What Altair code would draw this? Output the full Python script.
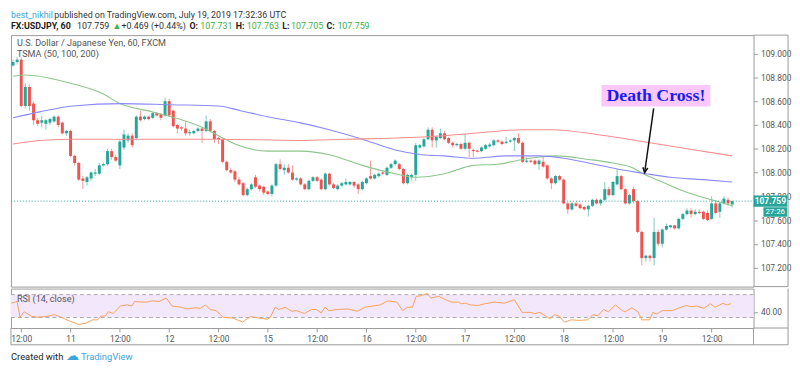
import altair as alt
import pandas as pd

# ---------------- data ----------------
opens = [108.90,108.93,108.95,108.56,108.72,108.58,108.44,108.42,108.41,108.42,
         108.43,108.47,108.42,108.33,108.35,108.14,108.08,107.95,107.92,107.95,
         107.99,107.99,108.06,108.07,108.18,108.13,108.06,108.21,108.27,108.31,
         108.29,108.47,108.45,108.47,108.46,108.50,108.49,108.48,108.60,108.52,
         108.40,108.38,108.37,108.33,108.33,108.35,108.37,108.35,108.43,108.35,
         108.29,108.28,108.09,108.02,108.01,107.94,107.91,107.81,107.86,107.96,
         107.89,107.88,107.84,107.82,107.89,108.07,108.02,108.04,108.00,107.94,
         107.95,107.90,107.86,107.93,107.96,107.94,107.86,107.99,107.90,107.86,
         107.89,107.90,107.90,107.92,107.90,107.86,107.91,107.97,107.95,107.97,
         108.00,107.98,108.04,108.07,108.07,108.03,107.91,107.96,107.98,108.21,
         108.22,108.28,108.36,108.27,108.29,108.33,108.29,108.25,108.23,108.24,
         108.20,108.25,108.19,108.185,108.18,108.20,108.22,108.23,108.27,108.26,
         108.25,108.26,108.27,108.29,108.25,108.09,108.10,108.10,108.07,108.09,
         108.06,107.95,107.91,107.97,107.94,107.74,107.69,107.74,107.73,107.71,
         107.69,107.72,107.77,107.74,107.77,107.86,107.81,107.90,107.97,107.86,
         107.74,107.86,107.76,107.50,107.28,107.30,107.28,107.50,107.40,107.52,
         107.54,107.555,107.53,107.61,107.65,107.68,107.65,107.67,107.67,107.66,
         107.61,107.74,107.67,107.74,107.77,107.731]
highs = [108.95,108.97,108.97,108.75,108.74,108.60,108.46,108.48,108.45,108.46,
         108.48,108.48,108.43,108.36,108.36,108.15,108.09,107.97,107.97,108.01,
         108.03,108.08,108.08,108.20,108.20,108.15,108.28,108.36,108.33,108.33,
         108.48,108.52,108.48,108.48,108.51,108.51,108.50,108.63,108.62,108.53,
         108.41,108.39,108.43,108.36,108.36,108.38,108.38,108.48,108.45,108.36,
         108.30,108.29,108.10,108.04,108.02,107.96,107.92,107.87,107.91,107.98,
         107.90,107.89,107.85,107.90,108.08,108.11,108.07,108.07,108.06,107.96,
         107.96,107.91,107.94,107.97,107.97,107.95,108.00,108.00,107.91,107.90,
         107.92,107.95,107.93,107.93,107.91,107.93,107.96,108.10,107.99,108.00,
         108.01,108.05,108.08,108.11,108.08,108.04,107.99,107.99,108.25,108.24,
         108.29,108.38,108.38,108.31,108.37,108.35,108.30,108.26,108.25,108.25,
         108.33,108.26,108.20,108.19,108.22,108.24,108.25,108.28,108.28,108.27,
         108.30,108.28,108.30,108.33,108.26,108.13,108.11,108.11,108.11,108.13,
         108.07,107.96,107.98,107.98,107.95,107.75,107.75,107.75,107.74,107.72,
         107.73,107.78,107.78,107.78,107.92,107.88,107.93,108.03,107.98,107.87,
         107.82,107.88,107.77,107.51,107.31,107.31,107.62,107.52,107.53,107.57,
         107.56,107.56,107.62,107.66,107.70,107.70,107.69,107.69,107.68,107.68,
         107.80,107.76,107.75,107.80,107.79,107.763]
lows = [108.89,108.91,108.55,108.54,108.52,108.40,108.39,108.38,108.36,108.40,
        108.42,108.38,108.32,108.31,108.13,108.06,107.93,107.86,107.89,107.93,
        107.97,107.98,108.05,108.06,108.11,108.09,108.03,108.19,108.25,108.21,
        108.28,108.43,108.44,108.44,108.45,108.47,108.44,108.47,108.47,108.38,
        108.33,108.35,108.31,108.31,108.32,108.34,108.25,108.34,108.34,108.25,
        108.24,108.08,108.01,107.99,107.92,107.89,107.80,107.80,107.85,107.87,
        107.84,107.81,107.81,107.80,107.88,108.02,107.98,107.99,107.93,107.93,
        107.89,107.85,107.85,107.92,107.92,107.85,107.85,107.89,107.86,107.85,
        107.88,107.89,107.89,107.87,107.82,107.85,107.90,107.94,107.94,107.96,
        107.98,107.97,108.03,108.06,108.02,107.90,107.90,107.93,107.93,108.20,
        108.21,108.27,108.21,108.21,108.28,108.27,108.24,108.21,108.22,108.19,
        108.19,108.13,108.13,108.17,108.17,108.19,108.21,108.22,108.25,108.23,
        108.24,108.25,108.18,108.24,108.08,108.08,108.08,108.06,108.02,108.04,
        107.94,107.86,107.90,107.93,107.73,107.65,107.68,107.71,107.69,107.68,
        107.63,107.71,107.73,107.72,107.76,107.80,107.80,107.89,107.85,107.73,
        107.73,107.74,107.49,107.22,107.25,107.25,107.22,107.38,107.37,107.51,
        107.53,107.52,107.52,107.60,107.64,107.62,107.64,107.65,107.60,107.59,
        107.60,107.65,107.62,107.73,107.72,107.705]
closes = [108.93,108.95,108.56,108.72,108.56,108.44,108.41,108.44,108.44,108.45,
          108.47,108.40,108.33,108.35,108.14,108.08,107.94,107.93,107.96,108.00,
          108.00,108.06,108.07,108.18,108.13,108.10,108.26,108.32,108.31,108.23,
          108.47,108.44,108.47,108.45,108.50,108.48,108.46,108.60,108.48,108.39,
          108.37,108.37,108.33,108.34,108.35,108.37,108.35,108.43,108.35,108.28,
          108.28,108.09,108.02,108.00,107.94,107.90,107.81,107.86,107.90,107.88,
          107.86,107.83,107.82,107.89,108.07,108.03,108.04,108.00,107.94,107.95,
          107.90,107.86,107.93,107.96,107.93,107.86,107.99,107.90,107.87,107.89,
          107.91,107.92,107.92,107.89,107.86,107.92,107.95,107.95,107.98,107.99,
          107.99,108.04,108.07,108.10,108.03,107.91,107.98,107.98,108.23,108.23,
          108.28,108.36,108.27,108.30,108.33,108.28,108.25,108.23,108.24,108.20,
          108.25,108.20,108.18,108.175,108.21,108.23,108.235,108.27,108.26,108.24,
          108.26,108.27,108.29,108.25,108.09,108.10,108.09,108.07,108.10,108.05,
          107.95,107.91,107.97,107.94,107.74,107.69,107.74,107.72,107.70,107.69,
          107.72,107.77,107.74,107.77,107.86,107.81,107.92,107.97,107.86,107.74,
          107.81,107.76,107.50,107.28,107.30,107.28,107.50,107.40,107.52,107.55,
          107.555,107.53,107.61,107.65,107.68,107.65,107.67,107.66,107.61,107.60,
          107.74,107.66,107.74,107.78,107.74,107.759]

ma50_idx = [0, 3, 13, 22, 26, 34, 46, 50, 54, 62, 70, 77, 85, 93, 98, 105, 112, 118, 124, 128, 132, 140, 146, 150, 154, 158, 162, 166, 170, 175]
ma50_val = [108.81, 108.82, 108.76, 108.66, 108.58, 108.51, 108.38, 108.31, 108.24, 108.18, 108.18, 108.15, 108.06, 107.99, 107.96, 107.99, 108.06, 108.07, 108.11, 108.13, 108.14, 108.11, 108.08, 108.05, 107.98, 107.92, 107.86, 107.81, 107.77, 107.72]
ma100_idx = [0, 6.5, 14.6, 26.5, 38.5, 50, 55.4, 61.9, 69.7, 77, 85, 93, 99.6, 105, 112, 120, 128, 134, 140, 147, 154, 160, 168, 175]
ma100_val = [108.46, 108.51, 108.56, 108.58, 108.57, 108.56, 108.52, 108.47, 108.42, 108.36, 108.28, 108.19, 108.15, 108.14, 108.12, 108.14, 108.14, 108.12, 108.08, 108.03, 107.99, 107.96, 107.94, 107.92]
ma200_idx = [0, 6.5, 14.6, 26.5, 38.5, 50, 69.7, 81, 93, 105, 112, 124, 131, 142, 148, 155, 164, 175]
ma200_val = [108.24, 108.27, 108.28, 108.28, 108.28, 108.28, 108.27, 108.28, 108.29, 108.31, 108.33, 108.36, 108.36, 108.32, 108.29, 108.25, 108.20, 108.14]

rsi_idx = [-0.5, 1.0, 1.7, 2.7, 4.6, 5.8, 8.2, 10.1, 11.7, 13.7,
           16.0, 17.7, 19.4, 20.6, 21.3, 22.5, 23.2, 24.4, 26.1, 27.7,
           28.9, 29.6, 31.3, 32.7, 33.9, 35.6, 37.3, 38.7, 40.9, 42.3,
           44.4, 45.6, 46.8, 48.0, 49.5, 51.1, 53.5, 55.9, 57.8, 59.9,
           61.9, 62.6, 63.8, 64.7, 66.2, 67.8, 69.0, 70.9, 72.6, 73.8,
           75.0, 75.9, 76.9, 79.0, 81.4, 83.8, 85.7, 89.3, 91.2, 93.4,
           94.1, 94.8, 96.0, 97.2, 98.1, 99.3, 100.8, 101.7, 103.6, 105.3,
           106.7, 108.4, 109.1, 110.1, 111.3, 113.2, 114.8, 117.2, 119.6, 122.0,
           123.9, 125.8, 127.0, 128.2, 130.6, 131.8, 133.0, 134.2, 135.8, 137.7,
           139.9, 141.1, 142.3, 143.7, 144.9, 146.6, 148.3, 149.0, 150.6, 152.1,
           153.0, 154.9, 155.7, 156.6, 158.0, 160.4, 162.6, 163.8, 165.0, 166.4,
           168.1, 169.7, 170.9, 172.8, 173.6, 174.7]
rsi_val = [55, 58, 30.5, 40, 32, 30.5, 32, 35, 30.5, 24,
           18, 20, 26, 26, 32, 33, 40, 37, 50, 52,
           50, 58, 57, 57, 59, 58, 64, 50, 48, 45,
           47, 46, 52, 44, 42, 30.5, 29, 22, 31.7, 29,
           27, 30.5, 48, 44, 48, 41, 42, 37, 44, 44,
           38, 48, 42, 44, 45, 41, 48, 52, 59, 57,
           50, 42, 48, 48, 67, 68, 72, 64, 67, 61,
           57, 57, 54, 55, 52, 51, 54, 57, 55, 61,
           39, 39, 37, 39, 28, 35, 32, 21.7, 26, 25,
           26, 35, 33, 44, 40, 52, 42, 40, 47, 40,
           26, 26, 39, 36, 42, 42, 48, 51, 49, 50,
           46, 54, 48, 55, 52, 54]

tick_idx = [2, 14, 26, 38, 50, 62, 74, 86, 98, 110, 122, 134, 146, 158, 170]
tick_lbl = ["12:00", "11", "12:00", "12", "12:00", "15", "12:00", "16",
            "12:00", "17", "12:00", "18", "12:00", "19", "12:00"]
price_ticks = [107.2, 107.4, 107.6, 107.8, 108.0, 108.2, 108.4, 108.6, 108.8, 109.0]
rsi_ticks = [40]
rsi_bands = [30, 70]

# annotation anchors (bar index / price)
cross_box_i = [143.2, 169.7]
cross_box_p = [108.556, 108.737]
cross_arrow_i = [155.9, 153.7]
cross_arrow_p = [108.54, 108.00]

header1 = [("best_nikhil", 0, "#3aa6dd", "normal"),
           ("published on TradingView.com, July 19, 2019 17:32:36 UTC", 44, "#333333", "normal")]
header2 = [("FX:USDJPY, 60", 0, "#222222", "bold"), ("107.759", 67, "#333333", "normal"),
           ("\u25B2", 103, "#3cb043", "normal"), ("+0.469 (+0.44%)", 112, "#333333", "normal"),
           ("O:", 181, "#222222", "bold"), ("107.731", 192, "#3cb043", "normal"),
           ("H:", 228, "#222222", "bold"), ("107.763", 239, "#3cb043", "normal"),
           ("L:", 275, "#222222", "bold"), ("107.705", 284, "#3cb043", "normal"),
           ("C:", 320, "#222222", "bold"), ("107.759", 331, "#3cb043", "normal")]

# ---------------- styling ----------------
FONT = "Roboto"
UP, DOWN = "#26a69a", "#ef5350"
FRAME = "#9a9a9a"
W, H_MAIN, H_RSI = 753, 255, 40
RW = 35  # right price-axis strip
XDOM = [-0.5, 180.2]
YDOM = [107.04, 109.156]
RDOM = [11.7, 80.5]

xsc = alt.Scale(domain=XDOM, nice=False, zero=False)
ysc = alt.Scale(domain=YDOM, nice=False, zero=False)
rsc = alt.Scale(domain=RDOM, nice=False, zero=False)

yaxis = alt.Axis(orient="right", values=price_ticks, format=".3f", title=None,
                 tickSize=4, labelPadding=3, labelFontSize=8.5)
raxis = alt.Axis(orient="right", values=rsi_ticks, format=".2f", title=None,
                 tickSize=4, labelPadding=3, labelFontSize=8.5)
lbl_expr = "[" + ",".join("'%s'" % t for t in tick_lbl) + "][round((datum.value-2)/12)]"
xaxis = alt.Axis(values=tick_idx, labelExpr=lbl_expr, title=None, tickSize=4,
                 labelPadding=3, labelFontSize=8.5)

one = pd.DataFrame({"a": [0]})


def label(text, x, y, color="#555555", size=10, weight="normal", font=FONT, align="left"):
    return alt.Chart(one).mark_text(text=text, align=align, baseline="middle", font=font,
                                    fontSize=size, fontWeight=weight, color=color).encode(
        x=alt.value(x), y=alt.value(y))


def frame(x, y, x2=None, y2=None):
    enc = dict(x=alt.value(x), y=alt.value(y))
    if x2 is not None:
        enc["x2"] = alt.value(x2)
    if y2 is not None:
        enc["y2"] = alt.value(y2)
    return alt.Chart(one).mark_rule(color=FRAME, strokeWidth=1).encode(**enc)


# ---------------- main price panel ----------------
candles = pd.DataFrame({"i": list(range(len(opens))), "o": opens, "h": highs,
                        "l": lows, "c": closes})
col = alt.condition("datum.c >= datum.o", alt.value(UP), alt.value(DOWN))
cb = alt.Chart(candles)
wicks = cb.mark_rule(strokeWidth=1, opacity=0.6).encode(
    x=alt.X("i:Q", scale=xsc, axis=None),
    y=alt.Y("l:Q", scale=ysc, axis=yaxis), y2="h:Q", color=col)
bodies = cb.mark_rule(strokeWidth=3, strokeCap="butt").encode(
    x=alt.X("i:Q", scale=xsc, axis=None),
    y=alt.Y("o:Q", scale=ysc, axis=yaxis), y2="c:Q", color=col)

ma_df = pd.concat([
    pd.DataFrame({"i": ma50_idx, "v": ma50_val, "s": "MA50"}),
    pd.DataFrame({"i": ma100_idx, "v": ma100_val, "s": "MA100"}),
    pd.DataFrame({"i": ma200_idx, "v": ma200_val, "s": "MA200"}),
])
mas = alt.Chart(ma_df).mark_line(strokeWidth=1.1, interpolate="monotone").encode(
    x=alt.X("i:Q", scale=xsc, axis=None),
    y=alt.Y("v:Q", scale=ysc, axis=yaxis),
    color=alt.Color("s:N", scale=alt.Scale(domain=["MA50", "MA100", "MA200"],
                                           range=["#8cc68a", "#8a8af7", "#f58e8e"]),
                    legend=None))

last = pd.DataFrame({"c": [closes[-1]]})
close_line = alt.Chart(last).mark_rule(color=UP, strokeDash=[1, 2], strokeWidth=1).encode(
    y=alt.Y("c:Q", scale=ysc, axis=yaxis), x=alt.value(0), x2=alt.value(W))
BOX1 = "M-1,-0.33L1,-0.33L1,0.33L-1,0.33Z"
BOX2 = "M-1,-0.4L1,-0.4L1,0.4L-1,0.4Z"
pbox = alt.Chart(last).mark_point(shape=BOX1, filled=True, size=34 * 34, opacity=1,
                                  color=UP).encode(
    x=alt.value(W + 17), y=alt.Y("c:Q", scale=ysc, axis=yaxis))
ptext = alt.Chart(last).mark_text(color="white", font=FONT, fontSize=8.5, fontWeight="bold").encode(
    x=alt.value(W + 17), y=alt.Y("c:Q", scale=ysc, axis=yaxis),
    text=alt.Text("c:Q", format=".3f"))
tbox = alt.Chart(last).mark_point(shape=BOX2, filled=True, size=24 * 24, opacity=1,
                                  color=UP, yOffset=11).encode(
    x=alt.value(W + 22), y=alt.Y("c:Q", scale=ysc, axis=yaxis))
ttext = alt.Chart(last).mark_text(text="27:26", color="white", font=FONT, fontSize=8,
                                  dy=11).encode(
    x=alt.value(W + 22), y=alt.Y("c:Q", scale=ysc, axis=yaxis))

box_df = pd.DataFrame({"x1": [cross_box_i[0]], "x2": [cross_box_i[1]],
                       "p1": [cross_box_p[0]], "p2": [cross_box_p[1]],
                       "xm": [sum(cross_box_i) / 2], "pm": [sum(cross_box_p) / 2]})
cross_box = alt.Chart(box_df).mark_rect(color="#fbc8fb").encode(
    x=alt.X("x1:Q", scale=xsc, axis=None), x2="x2:Q",
    y=alt.Y("p1:Q", scale=ysc, axis=yaxis), y2="p2:Q")
cross_text = alt.Chart(box_df).mark_text(text="Death Cross!", font="Liberation Serif",
                                         fontSize=18, fontWeight="bold", color="#1a1af2").encode(
    x=alt.X("xm:Q", scale=xsc, axis=None), y=alt.Y("pm:Q", scale=ysc, axis=yaxis))
arr_df = pd.DataFrame({"x1": [cross_arrow_i[0]], "x2": [cross_arrow_i[1]],
                       "p1": [cross_arrow_p[0]], "p2": [cross_arrow_p[1]]})
arrow = alt.Chart(arr_df).mark_rule(color="#111111", strokeWidth=1.5).encode(
    x=alt.X("x1:Q", scale=xsc, axis=None), x2="x2:Q",
    y=alt.Y("p1:Q", scale=ysc, axis=yaxis), y2="p2:Q")
head = alt.Chart(arr_df).mark_point(shape="M-0.5,-1L0,0L0.5,-1", filled=False, size=100,
                                    strokeWidth=1.5, color="#111111", opacity=1, angle=8).encode(
    x=alt.X("x2:Q", scale=xsc, axis=None), y=alt.Y("p2:Q", scale=ysc, axis=yaxis))

main_layers = [wicks, bodies, mas, close_line, cross_box, cross_text, arrow, head,
               pbox, ptext, tbox, ttext,
               label("U.S. Dollar / Japanese Yen, 60, FXCM", 6, 8.5, size=9.2),
               label("TSMA (50, 100, 200)", 6, 19.5, size=9.2),
               frame(W, 0, x2=W + RW), frame(W, H_MAIN, x2=W + RW),
               frame(W + RW, 0, y2=H_MAIN)]
for t, x, c, w in header1:
    main_layers.append(label(t, x, -20, color=c, size=9, weight=w))
for t, x, c, w in header2:
    main_layers.append(label(t, x, -9, color=c, size=9, weight=w))

main = alt.layer(*main_layers).properties(width=W, height=H_MAIN)

# ---------------- RSI panel ----------------
band_df = pd.DataFrame({"lo": [rsi_bands[0]], "hi": [rsi_bands[1]]})
band = alt.Chart(band_df).mark_rect(color="#f3e7fc").encode(
    x=alt.value(0), x2=alt.value(W),
    y=alt.Y("lo:Q", scale=rsc, axis=raxis), y2="hi:Q")
dash = alt.Chart(pd.DataFrame({"lv": rsi_bands})).mark_rule(
    strokeDash=[4, 3], color="#ababab", strokeWidth=1).encode(
    y=alt.Y("lv:Q", scale=rsc, axis=raxis), x=alt.value(0), x2=alt.value(W))
rsi_line = alt.Chart(pd.DataFrame({"i": rsi_idx, "v": rsi_val})).mark_line(
    color="#f7a25a", strokeWidth=1).encode(
    x=alt.X("i:Q", scale=xsc, axis=xaxis),
    y=alt.Y("v:Q", scale=rsc, axis=raxis))

rsi_layers = [band, dash, rsi_line,
              label("RSI (14, close)", 6, 10.5, size=9.2),
              frame(W, H_RSI, x2=W + RW), frame(0, H_RSI + 17, x2=W + RW),
              frame(W + RW, 0, y2=H_RSI + 17), frame(W, H_RSI, y2=H_RSI + 17),
              frame(0, H_RSI, y2=H_RSI + 17),
              label("Created with", 0, H_RSI + 29, color="#222222", size=9.5),
              label("\u2601", 56, H_RSI + 28, color="#3aa6dd", size=13),
              label("TradingView", 71, H_RSI + 29, color="#3aa6dd", size=9.5)]
rsi = alt.layer(*rsi_layers).properties(width=W, height=H_RSI)

chart = alt.vconcat(main, rsi, spacing=0).properties(
    padding=0, background="white"
).configure_view(stroke=FRAME, strokeWidth=1).configure_axis(
    labelFont=FONT, labelColor="#555555", tickColor="#9a9a9a", domain=False, grid=False
)

chart.save("out.html", embed_options={"renderer": "svg", "actions": False})
